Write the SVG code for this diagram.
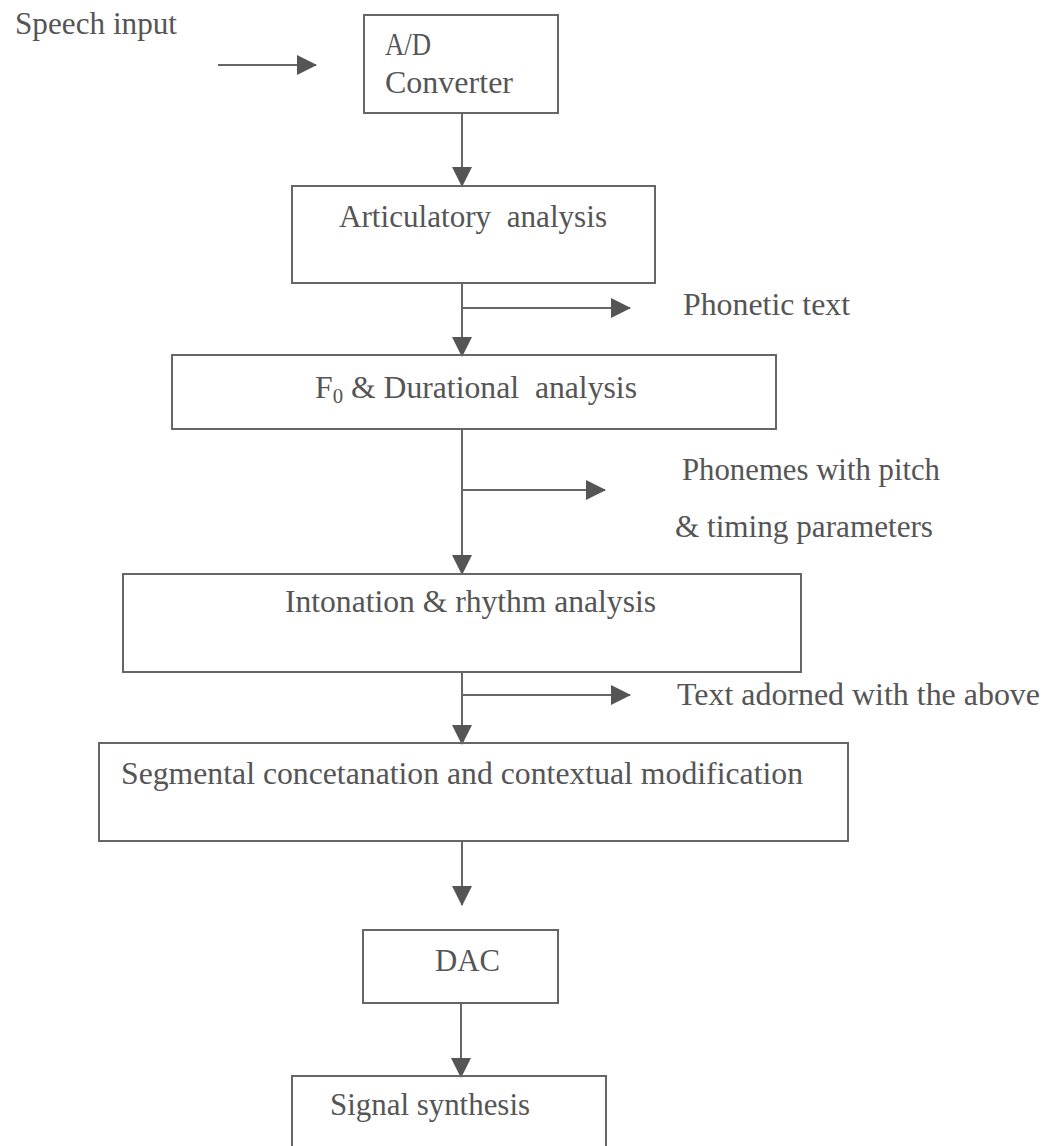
<svg xmlns="http://www.w3.org/2000/svg" width="1056" height="1146" viewBox="0 0 1056 1146">
<defs>
<marker id="ah" markerWidth="20" markerHeight="20" refX="19" refY="10" orient="auto" markerUnits="userSpaceOnUse">
<path d="M0,0 L20,10 L0,20 Z" fill="#555"/>
</marker>
<style>
.box{fill:none;stroke:#666;stroke-width:2}
.ln{fill:none;stroke:#666;stroke-width:2}
text{font-family:"Liberation Serif","Times New Roman",serif;font-size:32px;fill:#555}
</style>
</defs>
<rect width="1056" height="1146" fill="#fff"/>
<g id="connectors">
<line class="ln" x1="218" y1="65" x2="316" y2="65" marker-end="url(#ah)"/>
<line class="ln" x1="462" y1="113" x2="462" y2="186" marker-end="url(#ah)"/>
<line class="ln" x1="462" y1="283" x2="462" y2="356" marker-end="url(#ah)"/>
<line class="ln" x1="462" y1="308" x2="630" y2="308" marker-end="url(#ah)"/>
<line class="ln" x1="462" y1="429" x2="462" y2="574" marker-end="url(#ah)"/>
<line class="ln" x1="462" y1="490" x2="605" y2="490" marker-end="url(#ah)"/>
<line class="ln" x1="462" y1="672" x2="462" y2="744" marker-end="url(#ah)"/>
<line class="ln" x1="462" y1="695" x2="630" y2="695" marker-end="url(#ah)"/>
<line class="ln" x1="462" y1="841" x2="462" y2="905" marker-end="url(#ah)"/>
<line class="ln" x1="461" y1="1003" x2="461" y2="1077" marker-end="url(#ah)"/>
</g>
<g id="speech-input"><text x="15" y="34" textLength="162" lengthAdjust="spacingAndGlyphs">Speech input</text></g>
<g id="ad-converter">
<rect class="box" x="364" y="15" width="194" height="98"/>
<text x="385" y="55" textLength="46" lengthAdjust="spacingAndGlyphs">A/D</text>
<text x="385" y="93" textLength="128" lengthAdjust="spacingAndGlyphs">Converter</text>
</g>
<g id="articulatory">
<rect class="box" x="292" y="186" width="363" height="97"/>
<text x="339" y="227" textLength="268" lengthAdjust="spacingAndGlyphs" xml:space="preserve">Articulatory  analysis</text>
</g>
<g id="phonetic-text"><text x="683" y="315" textLength="167" lengthAdjust="spacingAndGlyphs">Phonetic text</text></g>
<g id="f0-durational">
<rect class="box" x="172" y="355" width="604" height="74"/>
<text x="315" y="398" textLength="322" lengthAdjust="spacingAndGlyphs" xml:space="preserve">F<tspan font-size="21" dy="5">0</tspan><tspan dy="-5"> &amp; Durational  analysis</tspan></text>
</g>
<g id="phonemes-label">
<text x="682" y="480" textLength="258" lengthAdjust="spacingAndGlyphs">Phonemes with pitch</text>
<text x="675" y="537" textLength="258" lengthAdjust="spacingAndGlyphs">&amp; timing parameters</text>
</g>
<g id="intonation">
<rect class="box" x="123" y="574" width="678" height="98"/>
<text x="285" y="612" textLength="371" lengthAdjust="spacingAndGlyphs">Intonation &amp; rhythm analysis</text>
</g>
<g id="adorned-label"><text x="677" y="705" textLength="363" lengthAdjust="spacingAndGlyphs">Text adorned with the above</text></g>
<g id="segmental">
<rect class="box" x="99" y="743" width="749" height="98"/>
<text x="121" y="784" textLength="682" lengthAdjust="spacingAndGlyphs">Segmental concetanation and contextual modification</text>
</g>
<g id="dac">
<rect class="box" x="363" y="930" width="195" height="73"/>
<text x="435" y="971" textLength="65" lengthAdjust="spacingAndGlyphs">DAC</text>
</g>
<g id="signal-synthesis">
<rect class="box" x="292" y="1076" width="314" height="90"/>
<text x="330" y="1115" textLength="200" lengthAdjust="spacingAndGlyphs">Signal synthesis</text>
</g>
</svg>
